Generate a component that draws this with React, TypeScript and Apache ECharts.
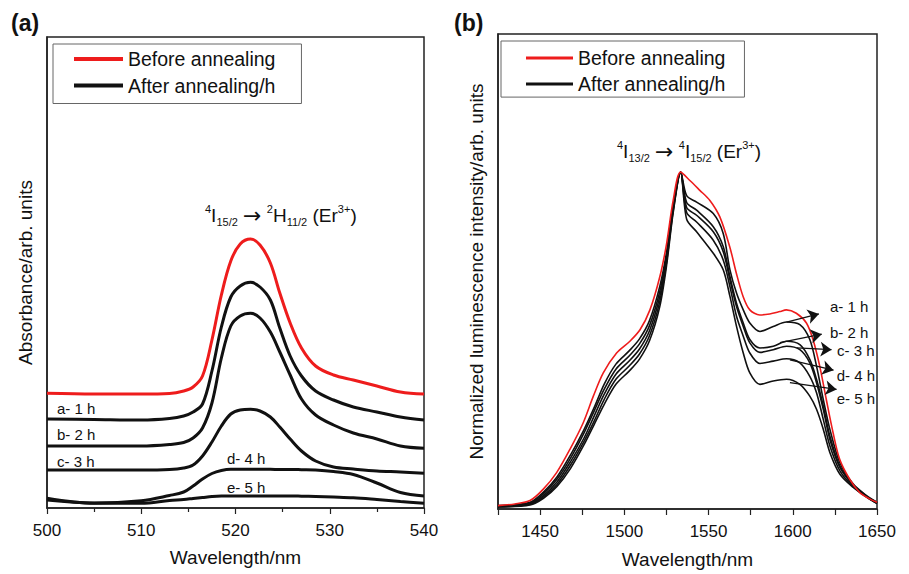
import React, { useEffect, useRef } from 'react';
import * as echarts from 'echarts';

const FONT = '"Liberation Sans", Arial, Helvetica, sans-serif';

// ---------- Panel (a): absorbance ----------
const absWl = [500, 505, 510, 513, 514.5, 515.5, 516.5, 517.5, 518.5, 519.5, 520.5, 521.6, 522.6, 523.7, 524.7, 525.8, 527, 528.5, 530.4, 532.5, 535, 537.5, 540];
const absBefore = [114.7, 114, 114, 114.5, 117, 121, 132, 168, 213, 247, 264, 269, 263, 245, 215, 185, 160, 142, 133, 128, 122, 116, 114];
const absA = [89, 88.5, 88, 89.5, 92, 96, 104, 137, 181, 211, 222, 225.7, 221, 208, 180, 152, 132, 117, 108, 101, 96, 91, 88];
const absB = [62, 62, 62, 63.5, 65.5, 70, 80, 105, 150, 182, 192, 194.7, 190, 176, 156, 133, 109, 93, 83, 75, 69, 62, 59.7];
const absC = [38, 38, 38, 38.5, 40, 43, 52, 66, 82, 94, 98, 98.7, 97, 91, 81, 69, 57, 47, 41, 39, 37, 36, 34.7];
const absD = [8, 5, 7.3, 12.5, 16, 22, 29, 34.5, 37.5, 38.7, 38.7, 38.7, 38.7, 38.7, 38.5, 38.5, 38.3, 38, 36.5, 33.5, 25, 15.5, 12];
const absE = [9.7, 4.7, 4.7, 7.5, 8.5, 9.5, 10.5, 11.5, 12, 12, 12, 12, 12, 12, 12, 12, 11.8, 11.5, 11, 10.3, 8.5, 6.5, 4.7];
const absLabels = ['a- 1 h', 'b- 2 h', 'c- 3 h', 'd- 4 h', 'e- 5 h'];

// ---------- Panel (b): normalized luminescence ----------
const plRedWl = [1425, 1435, 1444, 1451.9, 1459.8, 1467.7, 1475.6, 1481.6, 1487.5, 1495.4, 1503.3, 1509.3, 1515.2, 1521.1, 1525.1, 1529, 1533.4, 1538.9, 1544.8, 1550.8, 1556.7, 1562.6, 1566.5, 1570.5, 1574.5, 1580.4, 1586.3, 1592.3, 1596.2, 1602.1, 1608.1, 1612, 1616, 1619.9, 1623.9, 1627.8, 1633.7, 1639.7, 1645.6, 1650];
const plRed = [0.01, 0.015, 0.025, 0.059, 0.108, 0.177, 0.256, 0.335, 0.404, 0.463, 0.498, 0.532, 0.591, 0.69, 0.788, 0.916, 1.0, 0.975, 0.946, 0.916, 0.867, 0.778, 0.7, 0.631, 0.591, 0.576, 0.579, 0.586, 0.591, 0.581, 0.552, 0.503, 0.424, 0.325, 0.227, 0.148, 0.089, 0.049, 0.03, 0.02];
const plBlackWl = [1425, 1444, 1452, 1460, 1468, 1476, 1482, 1488, 1495, 1503, 1509, 1515, 1521, 1525, 1529, 1533.4, 1537, 1542.9, 1552.8, 1558.7, 1562.7, 1566.6, 1570.6, 1574.5, 1580.5, 1588.4, 1596.3, 1604.2, 1610.1, 1614.1, 1618.1, 1622, 1627.9, 1635.9, 1643.8, 1650];
const plA = [0.01, 0.02, 0.05, 0.095, 0.16, 0.235, 0.3, 0.37, 0.43, 0.47, 0.505, 0.56, 0.66, 0.76, 0.9, 1.0, 0.93, 0.911, 0.877, 0.818, 0.71, 0.641, 0.591, 0.552, 0.527, 0.542, 0.555, 0.547, 0.503, 0.424, 0.325, 0.237, 0.138, 0.074, 0.04, 0.02];
const plB = [0.008, 0.018, 0.045, 0.088, 0.15, 0.225, 0.29, 0.355, 0.415, 0.455, 0.49, 0.545, 0.645, 0.75, 0.895, 1.0, 0.91, 0.887, 0.838, 0.779, 0.69, 0.611, 0.552, 0.503, 0.478, 0.483, 0.498, 0.488, 0.444, 0.385, 0.306, 0.217, 0.128, 0.072, 0.038, 0.019];
const plC = [0.008, 0.016, 0.04, 0.08, 0.14, 0.21, 0.275, 0.34, 0.4, 0.44, 0.475, 0.53, 0.63, 0.74, 0.89, 1.0, 0.895, 0.872, 0.823, 0.764, 0.68, 0.601, 0.542, 0.493, 0.465, 0.473, 0.483, 0.473, 0.434, 0.375, 0.296, 0.207, 0.124, 0.07, 0.037, 0.018];
const plD = [0.006, 0.014, 0.036, 0.073, 0.13, 0.2, 0.26, 0.325, 0.385, 0.425, 0.46, 0.515, 0.615, 0.73, 0.885, 1.0, 0.88, 0.852, 0.798, 0.739, 0.66, 0.572, 0.513, 0.463, 0.432, 0.439, 0.446, 0.434, 0.394, 0.345, 0.266, 0.188, 0.114, 0.066, 0.036, 0.017];
const plE = [0.006, 0.012, 0.032, 0.067, 0.12, 0.19, 0.25, 0.31, 0.37, 0.41, 0.445, 0.5, 0.6, 0.72, 0.88, 1.0, 0.86, 0.823, 0.759, 0.71, 0.631, 0.542, 0.463, 0.404, 0.37, 0.38, 0.385, 0.37, 0.335, 0.296, 0.237, 0.168, 0.104, 0.064, 0.035, 0.016];
const arrowStart = [[1596.3, 0.555], [1592.4, 0.494], [1602.3, 0.478], [1598.3, 0.443], [1598.3, 0.375]];
const arrowEnd = [[1615.5, 0.579], [1617.2, 0.519], [1623.0, 0.473], [1624.2, 0.412], [1626.0, 0.355]];

const BEFORE = 'Before annealing';
const AFTER = 'After annealing/h';
const RED = '#ee1c1c';
const BLACK = '#111111';

const pairs = (xs: number[], ys: number[]) => xs.map((x, i) => [x, ys[i]]);

const richStyles = {
  m: { fontSize: 19, fontFamily: FONT, lineHeight: 24, verticalAlign: 'middle', fill: '#111' },
  arr: { fontSize: 22, fontFamily: '"DejaVu Sans", sans-serif', lineHeight: 24, verticalAlign: 'middle', fill: '#111' },
  sup: { fontSize: 11, fontFamily: FONT, lineHeight: 18, verticalAlign: 'top', fill: '#111' },
  sub: { fontSize: 11, fontFamily: FONT, lineHeight: 7, verticalAlign: 'bottom', fill: '#111' },
};

const textEl = (text: string, x: number, y: number, size: number, extra: any = {}) => ({
  type: 'text',
  silent: true,
  style: {
    text,
    x,
    y,
    fontSize: size,
    fontFamily: FONT,
    fill: '#111',
    align: 'left',
    textAlign: 'left',
    verticalAlign: 'middle',
    textVerticalAlign: 'middle',
    ...extra,
  },
});

export default function App() {
  const ref = useRef<HTMLDivElement>(null);

  useEffect(() => {
    if (!ref.current) return;
    const chart = echarts.init(ref.current, null, { renderer: 'svg' });

    const axisLineStyle = { color: '#222', width: 1.5 };
    const lineSeries = (name: string, data: any[], color: string, width: number, xi: number, extra: any = {}) => ({
      type: 'line',
      name,
      xAxisIndex: xi,
      yAxisIndex: xi,
      data,
      symbol: 'none',
      showSymbol: false,
      smooth: 0.35,
      color,
      lineStyle: { color, width },
      emphasis: { disabled: true },
      silent: true,
      ...extra,
    });

    const absBlack = [absA, absB, absC, absD, absE];
    const plBlack = [plA, plB, plC, plD, plE];

    const series: any[] = [];
    absBlack.forEach((ys) => series.push(lineSeries(AFTER, pairs(absWl, ys), BLACK, 3, 0)));
    series.push(lineSeries(BEFORE, pairs(absWl, absBefore), RED, 3, 0, { z: 3 }));
    plBlack.forEach((ys, i) =>
      series.push(
        lineSeries(AFTER, pairs(plBlackWl, ys), BLACK, 1.6, 1, {
          smooth: 0.3,
          markLine:
            i === 0
              ? {
                  silent: true,
                  symbol: ['none', 'arrow'],
                  symbolSize: 11,
                  lineStyle: { color: BLACK, width: 1.3, type: 'solid' },
                  itemStyle: { color: BLACK },
                  label: { show: false },
                  emphasis: { disabled: true },
                  data: arrowStart.map((s, k) => [{ coord: s }, { coord: arrowEnd[k] }]),
                }
              : undefined,
        })
      )
    );
    series.push(lineSeries(BEFORE, pairs(plRedWl, plRed), RED, 1.6, 1, { z: 3, smooth: 0.3 }));

    const legendCommon = {
      orient: 'vertical',
      icon: 'rect',
      selectedMode: false,
      borderColor: '#666',
      borderWidth: 1,
      borderRadius: 0,
      itemStyle: { borderWidth: 0 },
      textStyle: { fontSize: 19.5, color: '#111', fontFamily: FONT },
      data: [BEFORE, AFTER],
    };

    const option: any = {
      animation: false,
      backgroundColor: '#ffffff',
      textStyle: { fontFamily: FONT },
      grid: [
        { left: 47, top: 37, width: 377, height: 471, show: true, borderColor: '#222', borderWidth: 1.5, backgroundColor: 'transparent' },
        { left: 498, top: 34, width: 379, height: 477, show: true, borderColor: '#222', borderWidth: 1.5, backgroundColor: 'transparent' },
      ],
      xAxis: [
        {
          gridIndex: 0,
          type: 'value',
          min: 500,
          max: 540,
          interval: 10,
          name: 'Wavelength/nm',
          nameLocation: 'middle',
          nameGap: 40,
          nameTextStyle: { fontSize: 19, color: '#111', fontFamily: FONT },
          axisLine: { show: true, onZero: false, lineStyle: axisLineStyle },
          axisTick: { show: true, inside: false, length: 6, lineStyle: { color: '#222', width: 1.2 } },
          minorTick: { show: true, splitNumber: 2, length: 4, lineStyle: { color: '#222', width: 1.2 } },
          axisLabel: { fontSize: 17, color: '#111', margin: 14, fontFamily: FONT },
          splitLine: { show: false },
          minorSplitLine: { show: false },
        },
        {
          gridIndex: 1,
          type: 'value',
          min: 1425,
          max: 1650,
          interval: 25,
          name: 'Wavelength/nm',
          nameLocation: 'middle',
          nameGap: 41,
          nameTextStyle: { fontSize: 19, color: '#111', fontFamily: FONT },
          axisLine: { show: true, onZero: false, lineStyle: axisLineStyle },
          axisTick: { show: true, inside: false, length: 6, lineStyle: { color: '#222', width: 1.2 } },
          axisLabel: {
            fontSize: 17,
            color: '#111',
            margin: 14,
            fontFamily: FONT,
            formatter: (v: number) => (v % 50 === 0 ? String(v) : ''),
          },
          splitLine: { show: false },
        },
      ],
      yAxis: [
        {
          gridIndex: 0,
          type: 'value',
          min: 0,
          max: 471,
          name: 'Absorbance/arb. units',
          nameLocation: 'middle',
          nameRotate: 90,
          nameGap: 12,
          nameTextStyle: { fontSize: 19, color: '#111', fontFamily: FONT },
          axisLine: { show: true, onZero: false, lineStyle: axisLineStyle },
          axisTick: { show: false },
          axisLabel: { show: false },
          splitLine: { show: false },
        },
        {
          gridIndex: 1,
          type: 'value',
          min: 0,
          max: 1.41,
          name: 'Normalized luminescence intensity/arb. units',
          nameLocation: 'middle',
          nameRotate: 90,
          nameGap: 12,
          nameTextStyle: { fontSize: 19, color: '#111', fontFamily: FONT },
          axisLine: { show: true, onZero: false, lineStyle: axisLineStyle },
          axisTick: { show: false },
          axisLabel: { show: false },
          splitLine: { show: false },
        },
      ],
      legend: [
        { ...legendCommon, left: 53, top: 44, padding: [5, 26, 8, 21], itemGap: 6.5, itemWidth: 49, itemHeight: 4 },
        { ...legendCommon, left: 501, top: 41, padding: [7, 19, 3, 25], itemGap: 6.1, itemWidth: 47, itemHeight: 3 },
      ],
      series,
      graphic: [
        textEl('(a)', 11, 23, 23, { fontWeight: 'bold' }),
        textEl('(b)', 454, 23, 23, { fontWeight: 'bold' }),
        {
          type: 'text',
          silent: true,
          left: 205,
          top: 203,
          style: {
            text: '{sup|4}{m|I}{sub|15/2}{m| }{arr|\u2192}{m| }{sup|2}{m|H}{sub|11/2}{m| (Er}{sup|3+}{m|)}',
            rich: richStyles,
            fill: '#111',
          },
        },
        {
          type: 'text',
          silent: true,
          left: 617,
          top: 139,
          style: {
            text: '{sup|4}{m|I}{sub|13/2}{m| }{arr|\u2192}{m| }{sup|4}{m|I}{sub|15/2}{m| (Er}{sup|3+}{m|)}',
            rich: richStyles,
            fill: '#111',
          },
        },
        textEl(absLabels[0], 57, 408, 15),
        textEl(absLabels[1], 57, 434, 15),
        textEl(absLabels[2], 57, 461.5, 15),
        textEl(absLabels[3], 227, 458, 15),
        textEl(absLabels[4], 227, 487, 15),
        textEl(absLabels[0], 830, 306.7, 15),
        textEl(absLabels[1], 830, 332.3, 15),
        textEl(absLabels[2], 837, 350, 15),
        textEl(absLabels[3], 836.7, 375.7, 15),
        textEl(absLabels[4], 836.7, 398.3, 15),
      ],
    };

    chart.setOption(option);
    return () => {
      chart.dispose();
    };
  }, []);

  return (
    <div
      ref={ref}
      style={{ position: 'absolute', left: 0, top: 0, width: 909, height: 574, background: '#fff' }}
    />
  );
}
